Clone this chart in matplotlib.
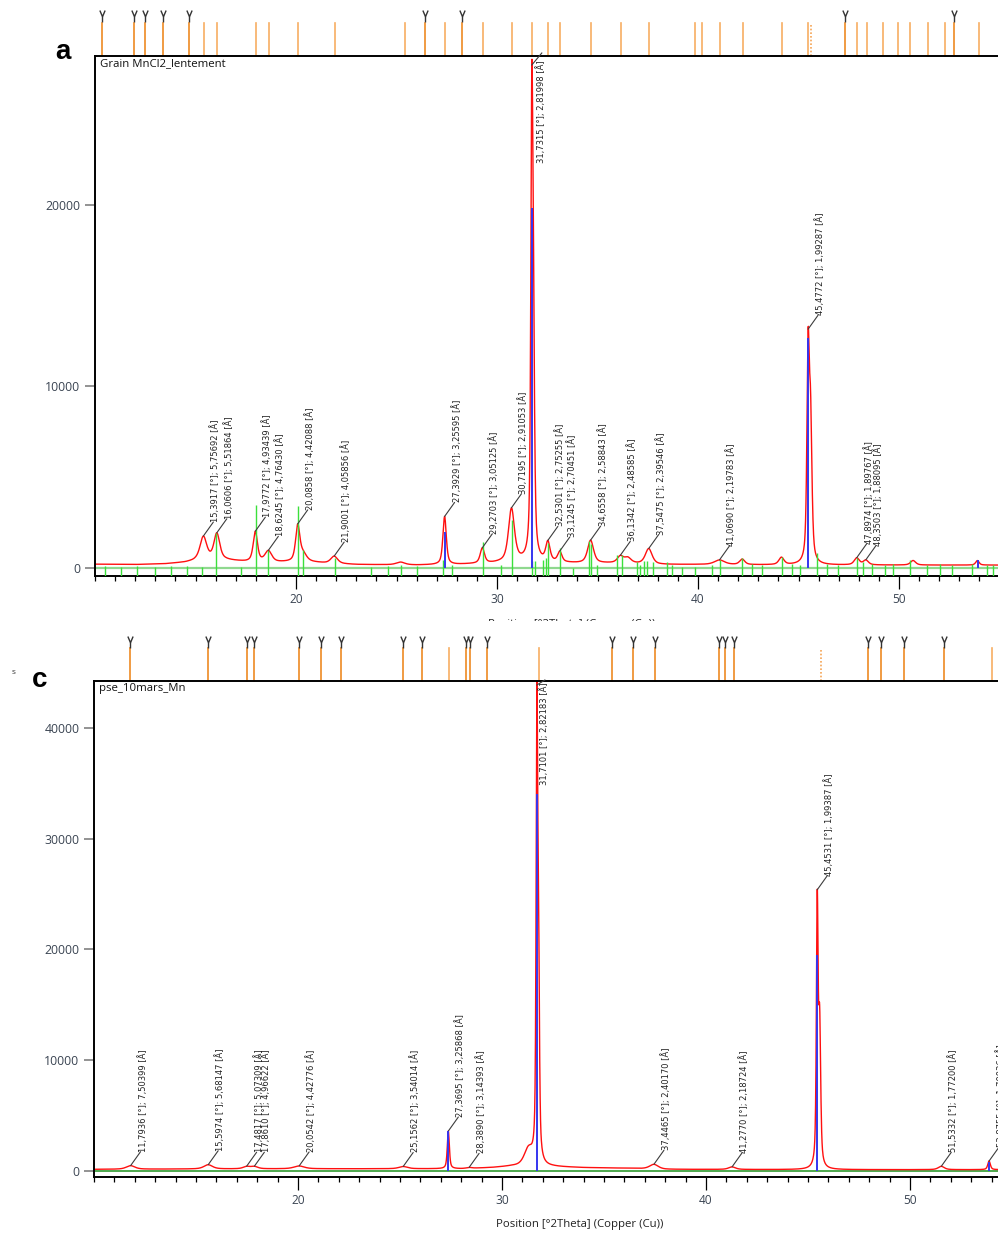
import numpy as np
import matplotlib
matplotlib.use("Agg")
import matplotlib.pyplot as plt
from matplotlib import font_manager
from matplotlib.path import Path
from matplotlib.transforms import blended_transform_factory, IdentityTransform
from matplotlib.patches import Rectangle
from matplotlib.lines import Line2D
from matplotlib.ticker import MultipleLocator, FixedLocator

W, H, DPI = 998, 1233, 100

# ---------------------------------------------------------------- panel a
a_title = "Grain MnCl2_lentement"
a_bg_pos = [10, 12, 13.5, 14.5, 15, 16.5, 17.5, 19, 20.5, 21.5, 23, 26, 28, 29.8, 31, 32.2, 34, 36, 38, 40, 45, 50, 55]
a_bg_counts = [200, 180, 220, 300, 380, 420, 330, 300, 330, 250, 180, 150, 180, 250, 350, 300, 250, 250, 180, 180, 150, 150, 150]
a_peak_pos = [15.3917, 16.0606, 17.9772, 18.6245, 20.0858, 20.35, 21.9001, 25.2, 27.3929, 29.2703, 30.7195,
              31.7315, 31.81, 32.5301, 33.1245, 34.6558, 36.1342, 36.5, 37.5475, 41.069, 42.2, 44.15,
              45.4772, 45.60, 47.8974, 48.3503, 50.7, 53.9]
a_peak_height = [1300, 1450, 1650, 600, 1950, 400, 400, 150, 2650, 830, 2900,
                 23000, 11000, 1050, 560, 1250, 360, 300, 850, 250, 300, 400,
                 11100, 7500, 380, 260, 250, 250]
a_peak_fwhm = [0.4, 0.35, 0.25, 0.4, 0.25, 0.4, 0.4, 0.5, 0.2, 0.25, 0.35,
               0.12, 0.13, 0.25, 0.25, 0.35, 0.35, 0.4, 0.4, 0.6, 0.3, 0.3,
               0.14, 0.16, 0.3, 0.3, 0.3, 0.2]
a_labels = [("15,3917", "5,75692"), ("16,0606", "5,51864"), ("17,9772", "4,93439"), ("18,6245", "4,76430"),
            ("20,0858", "4,42088"), ("21,9001", "4,05856"), ("27,3929", "3,25595"), ("29,2703", "3,05125"),
            ("30,7195", "2,91053"), ("31,7315", "2,81998"), ("32,5301", "2,75255"), ("33,1245", "2,70451"),
            ("34,6558", "2,58843"), ("36,1342", "2,48585"), ("37,5475", "2,39546"), ("41,0690", "2,19783"),
            ("45,4772", "1,99287"), ("47,8974", "1,89767"), ("48,3503", "1,88095")]
a_green_pos = [10.5, 11.3, 12.1, 13.0, 13.8, 14.6, 15.34, 16.02, 17.25, 18.01, 18.62, 20.08, 20.33, 21.94,
               23.72, 24.6, 25.2, 26.0, 27.30, 27.78, 29.29, 30.20, 30.73, 31.76, 31.89, 32.27, 32.42,
               32.55, 33.13, 33.80, 34.60, 34.70, 34.96, 35.99, 36.20, 36.95, 37.11, 37.31, 37.48, 37.78,
               38.44, 38.69, 39.19, 39.85, 40.68, 41.09, 42.17, 42.67, 43.17, 44.16, 44.66, 45.07, 45.90,
               46.40, 46.98, 47.89, 48.22, 48.64, 49.30, 49.72, 50.55, 51.38, 52.04, 52.62, 53.62, 54.36, 54.70]
a_green_height = [100, 60, 80, 60, 100, 80, 50, 1900, 50, 3470, 990, 3410, 990, 550,
                  50, 100, 150, 80, 440, 165, 1450, 165, 2640, 350, 380, 440, 550,
                  1360, 1085, 0, 1500, 1300, 165, 715, 715, 330, 165, 400, 400, 330,
                  330, 165, 50, 50, 150, 440, 550, 200, 150, 620, 200, 150, 830,
                  200, 150, 550, 300, 200, 150, 200, 440, 150, 200, 150, 200, 150, 150]
a_blue_pos = [27.3929, 31.7315, 45.4772, 53.91]
a_blue_height = [2000, 19800, 12670, 440]
a_ref_pos = [10.33, 11.96, 12.50, 13.40, 14.66, 15.41, 16.05, 18.00, 18.64, 20.08, 21.93, 25.41, 26.40,
             27.41, 28.24, 29.29, 30.75, 31.74, 32.55, 33.13, 34.68, 36.17, 37.56, 39.85, 40.20, 41.09,
             42.25, 44.16, 45.49, 45.62, 47.33, 47.93, 48.39, 49.22, 49.97, 50.55, 51.46, 52.27, 52.75, 53.97]
a_ref_marked = [10.33, 11.96, 12.50, 13.40, 14.66, 26.40, 28.24, 47.33, 52.75]
a_ref_dotted = [45.62]

# ---------------------------------------------------------------- panel c
c_title = "pse_10mars_Mn"
c_bg_pos = [10, 15, 20, 25, 28, 29.5, 30.5, 32.5, 34, 36, 38, 45, 55]
c_bg_counts = [150, 180, 200, 200, 200, 300, 420, 380, 300, 250, 150, 120, 120]
c_peak_pos = [11.7936, 15.5974, 17.4817, 17.8610, 20.0542, 25.1562, 27.3695, 28.3890, 31.30, 31.7101,
              31.79, 37.4465, 41.2770, 45.4531, 45.57, 51.5332, 53.8755]
c_peak_height = [320, 380, 200, 200, 250, 200, 3400, 80, 1500, 40000,
                 18000, 420, 230, 23500, 12500, 300, 780]
c_peak_fwhm = [0.5, 0.5, 0.4, 0.4, 0.6, 0.5, 0.12, 0.3, 0.5, 0.09,
               0.1, 0.5, 0.4, 0.1, 0.12, 0.35, 0.15]
c_labels = [("11,7936", "7,50399"), ("15,5974", "5,68147"), ("17,4817", "5,07309"), ("17,8610", "4,96622"),
            ("20,0542", "4,42776"), ("25,1562", "3,54014"), ("27,3695", "3,25868"), ("28,3890", "3,14393"),
            ("31,7101", "2,82183"), ("37,4465", "2,40170"), ("41,2770", "2,18724"), ("45,4531", "1,99387"),
            ("51,5332", "1,77200"), ("53,8755", "1,70036")]
c_blue_pos = [27.3695, 31.7101, 45.4531, 53.8755]
c_blue_height = [3600, 34000, 19500, 800]
c_ref_pos = [11.77, 15.57, 17.48, 17.85, 20.06, 21.15, 22.09, 25.16, 26.09, 27.41, 28.23, 28.45, 29.27,
             31.80, 35.40, 36.40, 37.50, 40.66, 40.94, 41.38, 45.64, 47.92, 48.58, 49.70, 51.67, 54.02]
c_ref_unmarked = [27.41, 31.80, 45.64, 54.02]
c_ref_dotted = [45.64]

x_label = "Position [°2Theta] (Copper (Cu))"

# ---------------------------------------------------------------- fonts
available = {f.name for f in font_manager.fontManager.ttflist}
if "Liberation Sans Narrow" in available:
    LABEL_FONT = dict(family=["Liberation Sans Narrow", "DejaVu Sans"], fontsize=7.5)
else:
    LABEL_FONT = dict(family=["DejaVu Sans"], fontsize=6.0)
TICK_FONT = ["Open Sans", "DejaVu Sans"]
TICK_COLOR = "#3A4452"
LABEL_COLOR = "#222222"
LEADER_COLOR = "#3c3c3c"


def profile(x, bg_pos, bg_counts, pos, height, fwhm, eta=0.6):
    y = np.interp(x, bg_pos, bg_counts).astype(float)
    for p, h, w in zip(pos, height, fwhm):
        u = ((x - p) / w) ** 2
        y += h * (eta / (1 + 4 * u) + (1 - eta) * np.exp(-4 * np.log(2) * u))
    return y


def to_num(s):
    return float(s.replace(",", "."))


fig = plt.figure(figsize=(W / DPI, H / DPI), dpi=DPI)


def px_axes(left, top, width, bottom):
    return fig.add_axes([left / W, 1 - bottom / H, width / W, (bottom - top) / H])


def style_axes(ax, xlim, ylim, yticks):
    ax.set_xlim(*xlim)
    ax.set_ylim(*ylim)
    ax.spines["right"].set_visible(False)
    for s in ("top", "left", "bottom"):
        ax.spines[s].set_linewidth(1.4)
        ax.spines[s].set_color("black")
    ax.xaxis.set_major_locator(FixedLocator([20, 30, 40, 50]))
    ax.xaxis.set_minor_locator(MultipleLocator(1))
    ax.yaxis.set_major_locator(FixedLocator(yticks))
    ax.tick_params(axis="x", which="major", direction="out", length=9.4, width=0.9, color="black",
                   pad=3, labelsize=8.6, labelcolor=TICK_COLOR)
    ax.tick_params(axis="x", which="minor", direction="out", length=3.6, width=0.9, color="black")
    ax.tick_params(axis="y", which="major", direction="out", length=7, width=1.3, color="#8a8a8a",
                   pad=3.5, labelsize=8.8, labelcolor=TICK_COLOR)
    for t in ax.get_xticklabels() + ax.get_yticklabels():
        t.set_family(TICK_FONT)


def ref_sticks(ax, positions, marked, dotted, y_line_top, y_marker):
    tr = blended_transform_factory(ax.transData, ax.transAxes)
    vee = Path([(-0.22, 0.5), (0, -0.02), (0.22, 0.5), (0, -0.02), (0, -0.5)],
               [Path.MOVETO, Path.LINETO, Path.LINETO, Path.MOVETO, Path.LINETO])
    for p in positions:
        if p in dotted:
            ax.plot([p, p], [1.0, y_line_top], transform=tr, color="#F5A455", lw=1.2, ls=(0, (1, 1.2)),
                    clip_on=False)
            continue
        col = "#EE8A22" if p in marked else "#F7AE62"
        ax.plot([p, p], [1.0, y_line_top], transform=tr, color=col, lw=1.2, clip_on=False)
        if p in marked:
            ax.plot([p], [y_marker], transform=tr, marker=vee, markersize=8.6, mfc="none",
                    mec="#333333", mew=1.0, clip_on=False, ls="none")


def peak_labels(ax, x, y, labels, ytop, top_geom):
    """top_geom: (leader start below spine, leader dx, leader end above spine, text dx, text gap)"""
    below, ldx, above, tdx, gap = top_geom
    for ang, d in labels:
        p = to_num(ang)
        yi = float(np.interp(p, x, y))
        text = f"{ang} [°]; {d} [Å]"
        if yi >= 0.9 * ytop:
            # label hangs down from the top spine next to the clipped peak
            px, py = ax.transData.transform((p, ytop))
            fig.add_artist(Line2D([px, px + ldx], [py - below, py + above], transform=IdentityTransform(),
                                  color=LEADER_COLOR, lw=0.8, zorder=6))
            ax.annotate(text, xy=(p, ytop), xytext=(tdx, -gap), textcoords="offset pixels",
                        rotation=90, ha="center", va="top", color=LABEL_COLOR,
                        annotation_clip=False, **LABEL_FONT)
        else:
            ax.annotate("", xy=(p, yi), xytext=(10, 14), textcoords="offset pixels",
                        annotation_clip=False,
                        arrowprops=dict(arrowstyle="-", color=LEADER_COLOR, lw=0.8, shrinkA=0, shrinkB=0,
                                        patchA=None, patchB=None))
            ax.annotate(text, xy=(p, yi), xytext=(12, 14), textcoords="offset pixels",
                        rotation=90, ha="center", va="bottom", color=LABEL_COLOR,
                        annotation_clip=False, **LABEL_FONT)


# ---------------------------------------------------------------- panel a drawing
ax1 = px_axes(95, 56, 45 * 20.1, 576)
xa = np.arange(10, 55.001, 0.01)
ya = profile(xa, a_bg_pos, a_bg_counts, a_peak_pos, a_peak_height, a_peak_fwhm)
ylim_a = (-450, 28200)
style_axes(ax1, (10, 55), ylim_a, [0, 10000, 20000])
ax1.axhline(0, color="#8FD88F", lw=1.6, zorder=1)
ax1.plot(xa, ya, color="#FF1010", lw=1.0, zorder=2)
ax1.vlines(a_green_pos, ylim_a[0], a_green_height, color="#3BE03B", lw=1.0, zorder=3)
ax1.vlines(a_blue_pos, 0, a_blue_height, color="#3535F0", lw=1.4, zorder=4)
ref_sticks(ax1, a_ref_pos, a_ref_marked, a_ref_dotted, 1 + 33.3 / 520, 1 + 40 / 520)
ax1.text(0.005, 0.995, a_title, transform=ax1.transAxes, ha="left", va="top", fontsize=8.2,
         family=TICK_FONT, color="#111111")

# ---------------------------------------------------------------- panel c drawing
ax2 = px_axes(94, 681, 44.5 * 20.4, 1176.7)
xc = np.arange(10, 54.501, 0.01)
yc = profile(xc, c_bg_pos, c_bg_counts, c_peak_pos, c_peak_height, c_peak_fwhm)
ylim_c = (-515, 44220)
style_axes(ax2, (10, 54.5), ylim_c, [0, 10000, 20000, 30000, 40000])
ax2.axhline(0, color="#2F9A2F", lw=1.2, zorder=1)
ax2.plot(xc, yc, color="#FF1010", lw=1.0, zorder=2)
ax2.vlines(c_blue_pos, 0, c_blue_height, color="#3535F0", lw=1.4, zorder=4)
c_marked = [p for p in c_ref_pos if p not in c_ref_unmarked]
ref_sticks(ax2, c_ref_pos, c_marked, c_ref_dotted, 1 + 33 / 495.7, 1 + 39 / 495.7)
ax2.text(0.005, 0.995, c_title, transform=ax2.transAxes, ha="left", va="top", fontsize=8.2,
         family=TICK_FONT, color="#111111")
ax2.set_xlabel(x_label, fontsize=8.2, family=TICK_FONT, color="#222222")
ax2.xaxis.set_label_coords(0.535, -0.085)

# peak annotations (after both axes are placed, so pixel positions are final)
peak_labels(ax1, xa, ya, a_labels, ylim_a[1], (9, 10, 3, 9, 4))
peak_labels(ax2, xc, yc, c_labels, ylim_c[1], (4, 8, 1, 7, 1))

# ---------------------------------------------------------------- figure texts
fig.text(63 / W, 1 - 52 / H, "a", fontsize=20, fontweight="bold", family=["Liberation Sans", "DejaVu Sans"],
         ha="center", va="center")
fig.text(40 / W, 1 - 680 / H, "c", fontsize=20, fontweight="bold", family=["Liberation Sans", "DejaVu Sans"],
         ha="center", va="center")
fig.text(14 / W, 1 - 673 / H, "s", fontsize=6, family=TICK_FONT, color="#333333", ha="center", va="center")
# x-axis title of panel a, mostly hidden under panel c's reference strip
fig.text(572 / W, 1 - 619 / H, x_label, fontsize=8.2, family=TICK_FONT, color="#222222",
         ha="center", va="top", zorder=3)
fig.add_artist(Rectangle((380 / W, 1 - 634 / H), 400 / W, 13 / H, transform=fig.transFigure,
                         facecolor="white", edgecolor="none", zorder=5))

fig.savefig("out.png", dpi=DPI, facecolor="white")
